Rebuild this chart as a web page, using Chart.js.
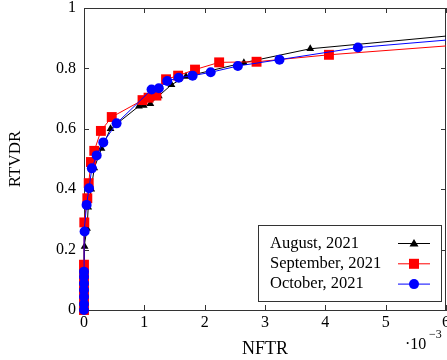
<!DOCTYPE html>
<html>
<head>
<meta charset="utf-8">
<script src="https://cdn.jsdelivr.net/npm/chart.js@4/dist/chart.umd.min.js"></script>
<style>
  html, body { margin: 0; padding: 0; background: #fff; }
  #chart { display: block; }
</style>
</head>
<body>
<canvas id="chart" width="447" height="360"></canvas>
<script>
// NFTR values are in units of 10^-3 (as on the axis)
const xTicks = [0, 1, 2, 3, 4, 5, 6];
const yTicks = [0, 0.2, 0.4, 0.6, 0.8, 1];

const augNftr = [0, 0, 0, 0, 0.01, 0.05, 0.07, 0.12, 0.17, 0.29, 0.44, 0.91, 0.99, 1.10, 1.24, 1.45, 1.69, 2.65, 3.75, 7.5];
const augRtvdr = [0, 0.04, 0.08, 0.12, 0.21, 0.27, 0.34, 0.40, 0.47, 0.535, 0.60, 0.675, 0.677, 0.683, 0.709, 0.746, 0.773, 0.819, 0.865, 0.935];

const sepNftr = [0, 0, 0, 0, 0, 0, 0.005, 0.055, 0.078, 0.115, 0.17, 0.28, 0.46, 0.97, 1.07, 1.20, 1.36, 1.56, 1.84, 2.24, 2.86, 4.06, 7.5];
const sepRtvdr = [0, 0.03, 0.06, 0.09, 0.12, 0.15, 0.29, 0.37, 0.42, 0.49, 0.527, 0.593, 0.639, 0.695, 0.703, 0.71, 0.764, 0.776, 0.796, 0.82, 0.822, 0.845, 0.897];

const octNftr = [0, 0, 0, 0, 0, 0, 0, 0.01, 0.043, 0.083, 0.13, 0.21, 0.32, 0.54, 1.12, 1.24, 1.38, 1.57, 1.80, 2.10, 2.55, 3.24, 4.54, 7.5];
const octRtvdr = [0, 0.02, 0.044, 0.066, 0.088, 0.11, 0.127, 0.26, 0.348, 0.403, 0.469, 0.512, 0.555, 0.618, 0.73, 0.734, 0.758, 0.769, 0.776, 0.787, 0.808, 0.829, 0.869, 0.919];

const seriesNames = ['August, 2021', 'September, 2021', 'October, 2021'];

const SERIF = '"Liberation Serif", "DejaVu Serif", serif';
const frameColor = '#333';
// let markers sitting on the left/bottom axes show fully, clip the rest at the frame
const markerClip = { left: 10, top: 0, right: 0, bottom: 10 };

function toPoints(xs, ys) {
    return xs.map((x, i) => ({ x: x, y: ys[i] }));
}

// frame on top/right + inward ticks (pgfplots style)
const framePlugin = {
    id: 'frame',
    beforeDatasetsDraw(chart) {
        const { ctx, chartArea: a, scales } = chart;
        ctx.save();
        ctx.strokeStyle = frameColor;
        ctx.lineWidth = 1;
        ctx.beginPath();
        ctx.moveTo(a.left, a.top + 0.5);
        ctx.lineTo(a.right - 0.5, a.top + 0.5);
        ctx.lineTo(a.right - 0.5, a.bottom);
        ctx.stroke();
        ctx.beginPath();
        xTicks.forEach(v => {
            const px = Math.round(scales.x.getPixelForValue(v)) + 0.5;
            ctx.moveTo(px, a.bottom); ctx.lineTo(px, a.bottom - 5);
            ctx.moveTo(px, a.top); ctx.lineTo(px, a.top + 5);
        });
        yTicks.forEach(v => {
            const py = Math.round(scales.y.getPixelForValue(v)) + 0.5;
            ctx.moveTo(a.left, py); ctx.lineTo(a.left + 5, py);
            ctx.moveTo(a.right, py); ctx.lineTo(a.right - 5, py);
        });
        ctx.stroke();
        ctx.restore();
    },
    afterDatasetsDraw(chart) {
        const { ctx } = chart;
        ctx.save();
        // legend box (text first, sample after, like pgfplots)
        const bx = 258.5, by = 225.5, bw = 183, bh = 76;
        ctx.fillStyle = '#fff';
        ctx.fillRect(bx, by, bw, bh);
        ctx.strokeStyle = frameColor;
        ctx.lineWidth = 1;
        ctx.strokeRect(bx, by, bw, bh);
        ctx.font = '16.5px ' + SERIF;
        ctx.textBaseline = 'middle';
        ctx.textAlign = 'left';
        chart.data.datasets.forEach((ds, i) => {
            const y = 243.5 + i * 20.3;
            ctx.fillStyle = '#000';
            ctx.fillText(seriesNames[i], 270, y);
            ctx.strokeStyle = ds.borderColor;
            ctx.beginPath();
            ctx.moveTo(398, y); ctx.lineTo(430, y);
            ctx.stroke();
            ctx.fillStyle = ds.borderColor;
            ctx.beginPath();
            if (ds.pointStyle === 'triangle') {
                ctx.moveTo(414, y - 4.5); ctx.lineTo(418.5, y + 3); ctx.lineTo(409.5, y + 3);
                ctx.closePath();
            } else if (ds.pointStyle === 'rect') {
                ctx.rect(409, y - 5, 10, 10);
            } else {
                ctx.arc(414, y, 5, 0, Math.PI * 2);
            }
            ctx.fill();
        });
        // axis multiplier
        ctx.fillStyle = '#000';
        ctx.textBaseline = 'middle';
        ctx.font = '16px ' + SERIF;
        ctx.fillText('\u00b710', 405, 345);
        ctx.font = '12px ' + SERIF;
        ctx.fillText('\u22123', 429, 335);
        ctx.restore();
    }
};

new Chart(document.getElementById('chart'), {
    type: 'scatter',
    data: {
        datasets: [
            {
                label: seriesNames[0],
                data: toPoints(augNftr, augRtvdr),
                showLine: true,
                borderColor: '#000',
                backgroundColor: '#000',
                borderWidth: 1,
                pointStyle: 'triangle',
                pointRadius: 4.5,
                pointBorderWidth: 0,
                clip: markerClip,
                order: 3
            },
            {
                label: seriesNames[1],
                data: toPoints(sepNftr, sepRtvdr),
                showLine: true,
                borderColor: '#ff0000',
                backgroundColor: '#ff0000',
                borderWidth: 1,
                pointStyle: 'rect',
                pointRadius: 7,
                pointBorderWidth: 0,
                clip: markerClip,
                order: 2
            },
            {
                label: seriesNames[2],
                data: toPoints(octNftr, octRtvdr),
                showLine: true,
                borderColor: '#0000ff',
                backgroundColor: '#0000ff',
                borderWidth: 1,
                pointStyle: 'circle',
                pointRadius: 5,
                pointBorderWidth: 0,
                clip: markerClip,
                order: 1
            }
        ]
    },
    options: {
        responsive: false,
        animation: false,
        devicePixelRatio: 1,
        layout: { autoPadding: false, padding: { top: 8, right: 1, left: 0, bottom: 0 } },
        plugins: {
            legend: { display: false },
            tooltip: { enabled: false }
        },
        scales: {
            x: {
                type: 'linear',
                min: 0,
                max: 6,
                afterFit: s => { s.height = 50; s.paddingLeft = 0; s.paddingRight = 0; },
                afterBuildTicks: s => { s.ticks = xTicks.map(v => ({ value: v })); },
                grid: { display: false, drawTicks: false },
                border: { display: true, color: frameColor, width: 1 },
                ticks: {
                    color: '#000',
                    padding: 3,
                    maxRotation: 0,
                    font: { family: SERIF, size: 16 }
                },
                title: {
                    display: true,
                    text: 'NFTR',
                    color: '#000',
                    font: { family: SERIF, size: 18 },
                    padding: { top: 0, bottom: 0 }
                }
            },
            y: {
                type: 'linear',
                min: 0,
                max: 1,
                afterFit: s => { s.width = 84; s.paddingTop = 0; s.paddingBottom = 0; },
                afterBuildTicks: s => { s.ticks = yTicks.map(v => ({ value: v })); },
                grid: { display: false, drawTicks: false },
                border: { display: true, color: frameColor, width: 1 },
                ticks: {
                    color: '#000',
                    padding: 8,
                    font: { family: SERIF, size: 16 },
                    callback: v => String(Number(v.toFixed(1)))
                },
                title: {
                    display: true,
                    text: 'RTVDR',
                    color: '#000',
                    font: { family: SERIF, size: 17 },
                    padding: { top: 5, bottom: 0 }
                }
            }
        }
    },
    plugins: [framePlugin]
});
</script>
</body>
</html>
